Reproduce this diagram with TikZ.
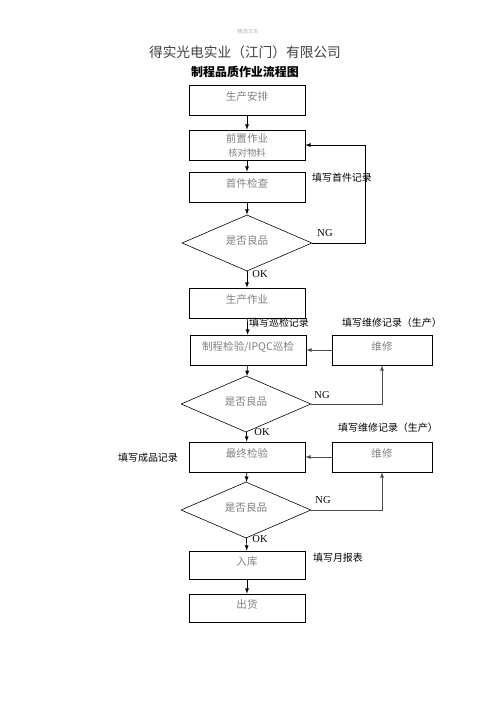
\documentclass[tikz,border=0pt]{standalone}
\usepackage{fontspec}
\setmainfont{Liberation Serif}
\newfontfamily\cjk{Noto Sans CJK SC}
\usetikzlibrary{shapes.geometric}

\tikzset{
    box/.style={draw, font=\cjk\fontsize{9}{12}\selectfont, text=gray, align=center,
        minimum width=34.8mm, minimum height=9mm, inner sep=2pt, text depth=2.4mm, line width=0.5pt},
    fixbox/.style={box, minimum width=30mm},
    check/.style={draw, diamond, font=\cjk\fontsize{9}{12}\selectfont, text=gray,
        minimum width=39mm, minimum height=16mm, inner sep=0pt, text depth=1.5mm, line width=0.5pt},
    note/.style={font=\cjk\fontsize{8.5}{10}\selectfont},
    tag/.style={font=\fontsize{9}{10}\selectfont},
    link/.style={-latex, line width=0.6pt},
    backlink/.style={link, draw=gray!60!black}
}

\begin{document}
\begin{tikzpicture}[x=0.3mm, y=-0.3mm]
    \useasboundingbox (0,0) rectangle (496,702);
    % heading
    \node[font=\cjk\fontsize{4.5}{5}\selectfont, text=gray!60] (mark) at (248,31) {精选文本};
    \node[font=\cjk\fontsize{11.7}{14}\selectfont, text=black!75] (company) at (245,52) {得实光电实业（江门）有限公司};
    \node[font=\cjk\bfseries\fontsize{10.2}{12}\selectfont] (title) at (245,72) {制程品质作业流程图};
    % main flow
    \node[box] (arrange) at (247,100) {生产安排};
    \node[box, text depth=0pt] (prep) at (247,145) {前置作业\\{\fontsize{8}{10}\selectfont 核对物料}};
    \node[box] (first) at (247,187) {首件检查};
    \node[check] (q1) at (247,243) {是否良品};
    \node[box] (make) at (247,303) {生产作业};
    \node[box] (ipqc) at (248,350) {制程检验/IPQC巡检};
    \node[fixbox] (fix1) at (382,350) {维修};
    \node[check] (q2) at (246,404) {是否良品};
    \node[box] (final) at (247,457) {最终检验};
    \node[fixbox] (fix2) at (382,457) {维修};
    \node[check] (q3) at (246,510) {是否良品};
    \node[box, minimum height=8.4mm] (store) at (247,565) {入库};
    \node[box, minimum height=8.4mm] (ship) at (247,608) {出货};
    % labels
    \node[note] (rec1) at (342,178) {填写首件记录};
    \node[tag] (ng1) at (325,233) {NG};
    \node[tag] (ok1) at (260,274) {OK};
    \node[note] (rec2) at (279,323) {填写巡检记录};
    \node[note] (rec3) at (392,323) {填写维修记录（生产）};
    \node[tag] (ng2) at (322,395) {NG};
    \node[tag] (ok2) at (262,432) {OK};
    \node[note] (rec4) at (388,428) {填写维修记录（生产）};
    \node[note] (rec5) at (148,458) {填写成品记录};
    \node[tag] (ng3) at (323,500) {NG};
    \node[tag] (ok3) at (260,539) {OK};
    \node[note] (rec6) at (338,558) {填写月报表};
    % connectors
    \draw[link] (arrange) -- (prep);
    \draw[link] (prep) -- (first);
    \draw[link] (first) -- (q1);
    \draw[link] (q1.east) -- ++(53,0) |- (prep.east);
    \draw[link] (q1) -- (make);
    \draw[link] (make) -- (ipqc);
    \draw[backlink] (fix1) -- (ipqc);
    \draw[link] (ipqc) -- (q2);
    \draw[backlink] (q2.east) -| (fix1.south);
    \draw[link] (q2) -- (final);
    \draw[backlink] (fix2) -- (final);
    \draw[link] (final) -- (q3);
    \draw[backlink] (q3.east) -| (fix2.south);
    \draw[link] (q3) -- (store);
    \draw[link] (store) -- (ship);
\end{tikzpicture}
\end{document}
